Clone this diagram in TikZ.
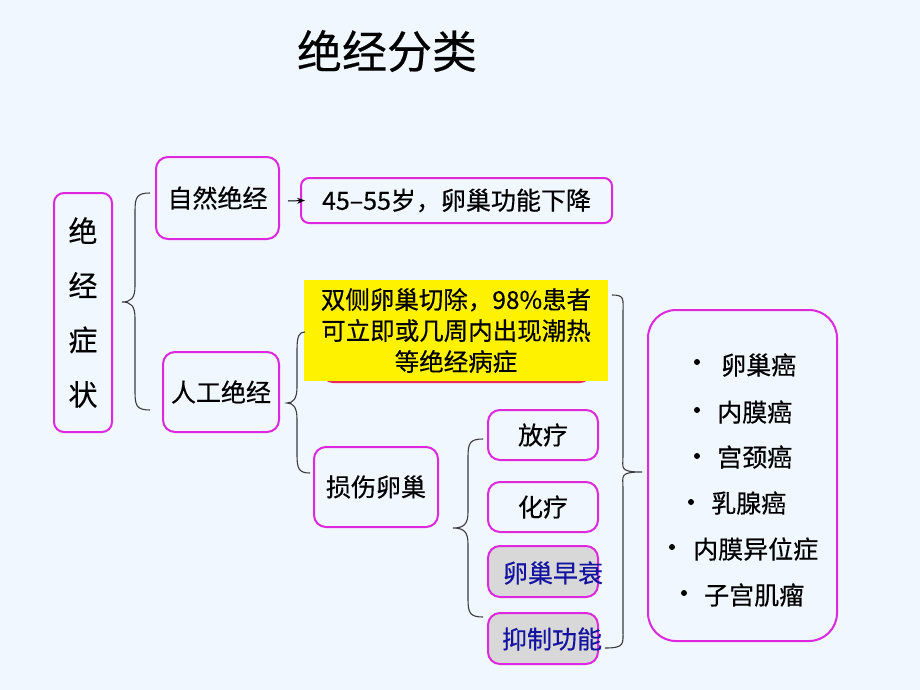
\documentclass[tikz,border=0pt]{standalone}
\usepackage{fontspec}
\setmainfont[FakeBold=0.4,AutoFakeBold=0.4]{Noto Sans CJK SC}
\usetikzlibrary{arrows.meta,calc}
\definecolor{bg}{RGB}{240,247,254}
\definecolor{mag}{RGB}{222,40,222}
\definecolor{darkblue}{RGB}{20,20,160}
\definecolor{graybox}{RGB}{216,216,216}
\definecolor{bracecol}{RGB}{60,60,60}
\definecolor{hidden}{RGB}{230,40,90}
\tikzset{
  box/.style={draw=mag, line width=2pt, rounded corners=12pt, inner sep=0pt, font=\fontsize{25}{28}\selectfont},
  graystyle/.style={box, fill=graybox},
  bluetext/.style={text=darkblue, inner sep=0pt, font=\fontsize{25}{28}\selectfont},
  itemtext/.style={anchor=west, inner sep=0pt, font=\fontsize{25}{28}\selectfont},
  bracestyle/.style={draw=bracecol, line width=1.1pt},
  arrowstyle/.style={draw=black, line width=1pt, -{Stealth[length=8pt,width=6pt]}}
}
\newcommand\curlybrace[7]{\draw[bracestyle] (#1,#4) .. controls ({#2+2},#4) and (#2,{#4+4}) .. (#2,{#4+18}) -- (#2,{#5-16}) .. controls (#2,{#5-4}) and ({#2-4},#5) .. (#3,#5) .. controls ({#2-4},#5) and (#2,{#5+4}) .. (#2,{#5+16}) -- (#2,{#6-18}) .. controls (#2,{#6-4}) and ({#2+2},#6) .. (#7,#6);}
\begin{document}
\begin{tikzpicture}[x=1pt,y=-1pt]
\fill[bg] (0,0) rectangle (920,690);
\useasboundingbox (0,0) rectangle (920,690);

\node[inner sep=0pt, font=\fontsize{45}{50}\selectfont] (title) at (387,51) {绝经分类};

\node[box, rounded corners=10pt, minimum width=58pt, minimum height=239pt, align=center,
      font=\fontsize{29}{54.5}\selectfont] (sym) at (83,312.5) {绝\\经\\症\\状};

\node[box, minimum width=123pt, minimum height=82pt] (nat) at (217.5,198) {自然绝经};
\node[box, rounded corners=8pt, minimum width=311pt, minimum height=45pt] (age) at (456.5,200.5) {45–55岁，卵巢功能下降};
\node[box, minimum width=116pt, minimum height=80pt] (art) at (221,392) {人工绝经};

% box partly hidden behind the yellow note
\node[draw=hidden, line width=2pt, rounded corners=10pt, minimum width=267pt, minimum height=80pt] (hid) at (456.5,342) {};
\node[fill=yellow, inner sep=0pt, minimum width=304pt, minimum height=101pt, align=center,
      font=\fontsize{24.5}{31}\selectfont] (yel) at (456,330.5) {双侧卵巢切除，98\%患者\\可立即或几周内出现潮热\\等绝经病症};

\node[box, minimum width=124pt, minimum height=80pt] (dmg) at (376,487) {损伤卵巢};
\node[box, minimum width=110pt, minimum height=50pt] (fl) at (543,435) {放疗};
\node[box, minimum width=110pt, minimum height=50pt] (hl) at (543,507) {化疗};
\node[graystyle, minimum width=110pt, minimum height=51pt] (zs) at (543,571.5) {};
\node[bluetext] (zst) at (553,573) {卵巢早衰};
\node[graystyle, minimum width=110pt, minimum height=51pt] (yz) at (543,638.5) {};
\node[bluetext] (yzt) at (552,639) {抑制功能};

\node[box, rounded corners=28pt, minimum width=189pt, minimum height=331pt] (dis) at (742.5,475.5) {};
\node[itemtext] (d1) at (721,365) {卵巢癌};
\node[itemtext] (d2) at (717,412) {内膜癌};
\node[itemtext] (d3) at (717,457) {宫颈癌};
\node[itemtext] (d4) at (711,503) {乳腺癌};
\node[itemtext] (d5) at (693,549) {内膜异位症};
\node[itemtext] (d6) at (704,595) {子宫肌瘤};
\fill (697,362) circle (3);
\fill (697,410) circle (3);
\fill (697,456) circle (3);
\fill (691,502) circle (3);
\fill (672,547) circle (3);
\fill (684,593) circle (3);

% connectors
\draw[arrowstyle] ($(nat.east)+(8,3)$) -- ($(age.west)+(5,0)$);
\curlybrace{150}{135}{122}{193}{302}{410}{150}
\curlybrace{305}{297}{287}{332}{403}{473}{310}
\curlybrace{483}{468}{453}{439}{528}{617}{483}
\curlybrace{612}{623}{642}{295}{472}{648}{605}
\end{tikzpicture}
\end{document}
